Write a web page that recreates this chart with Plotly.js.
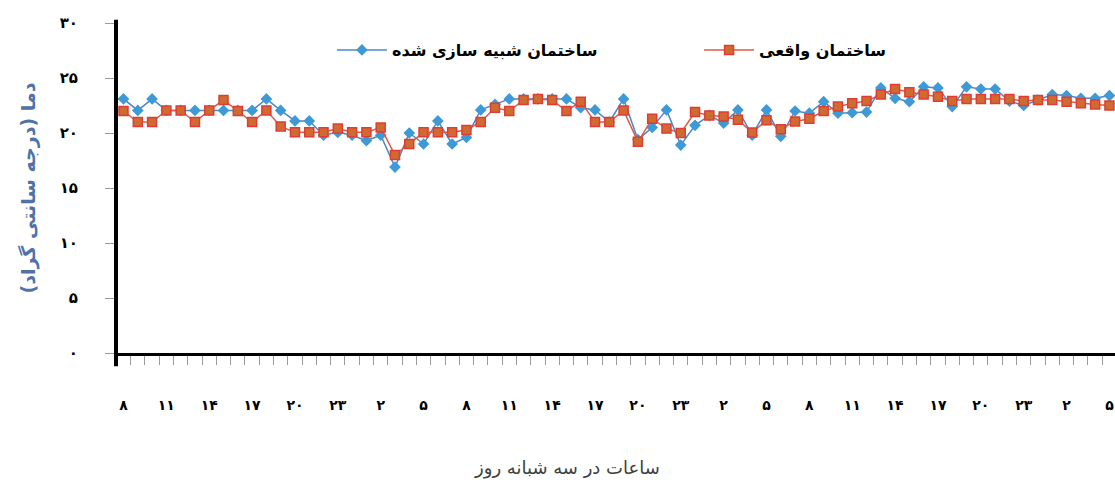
<!DOCTYPE html>
<html>
<head>
<meta charset="utf-8">
<script src="https://cdn.plot.ly/plotly-3.0.1.min.js"></script>
<style>html,body{margin:0;padding:0;background:#fff;}#chart{width:1115px;height:485px;}</style>
</head>
<body>
<div id="chart"></div>
<script>
// Hour of day for each hourly reading (three days, starting at 8)
const hours = [8,9,10,11,12,13,14,15,16,17,18,19,20,21,22,23,0,1,2,3,4,5,6,7,
               8,9,10,11,12,13,14,15,16,17,18,19,20,21,22,23,0,1,2,3,4,5,6,7,
               8,9,10,11,12,13,14,15,16,17,18,19,20,21,22,23,0,1,2,3,4,5];

// Simulated building (blue)
const simulated = [23.1,22.05,23.1,22.05,22.05,22.05,22.05,22.05,22.05,22.05,23.1,22.05,
                   21.1,21.1,19.8,20.06,19.8,19.3,19.8,16.9,20.0,19.0,21.1,19.0,
                   19.6,22.1,22.6,23.1,23.1,23.1,23.1,23.1,22.3,22.1,21.0,23.1,
                   19.4,20.5,22.1,18.9,20.7,21.6,20.9,22.1,19.8,22.1,19.7,22.0,
                   21.8,22.85,21.8,21.85,21.9,24.1,23.15,22.85,24.2,24.1,22.4,24.2,
                   24.0,24.0,22.9,22.5,23.0,23.5,23.4,23.15,23.15,23.4];

// Real building (red)
const real = [22.0,21.0,21.0,22.05,22.05,21.0,22.05,23.0,22.0,21.0,22.05,20.6,
              20.06,20.06,20.06,20.4,20.06,20.06,20.5,18.0,19.0,20.06,20.06,20.06,
              20.27,21.0,22.3,22.0,23.0,23.1,23.0,22.0,22.85,21.0,21.0,22.05,
              19.2,21.3,20.4,20.0,21.9,21.6,21.5,21.2,20.05,21.15,20.35,21.05,
              21.3,22.0,22.4,22.7,22.9,23.5,24.0,23.7,23.5,23.3,22.9,23.1,
              23.1,23.1,23.1,22.9,23.0,23.0,22.85,22.7,22.6,22.5];

const yTickValues = [0,5,10,15,20,25,30];
const seriesNames = ['ساختمان شبیه سازی شده', 'ساختمان واقعی'];
const xTitle = 'ساعات در سه شبانه روز';
const yTitle = '\u200Fدما (درجه سانتی گراد)\u200F';

const faDigits = '۰۱۲۳۴۵۶۷۸۹';
function toFa(n){ return String(n).replace(/[0-9]/g, d => faDigits[+d]); }

const idx = hours.map((h,i)=>i);
const labelIdx = idx.filter(i => i % 3 === 0);
const labelText = labelIdx.map(i => toFa(hours[i]));
const minorVals = idx.map(i => i + 0.5);

const FONT = 'DejaVu Sans, Noto Sans, sans-serif';

const traces = [
  {
    x: idx, y: simulated, name: seriesNames[0], type: 'scatter', mode: 'lines+markers',
    line: {color: '#4f86c6', width: 1.5},
    marker: {symbol: 'diamond', size: 9, color: '#3e9ad6'},
    legend: 'legend'
  },
  {
    x: idx, y: real, name: seriesNames[1], type: 'scatter', mode: 'lines+markers',
    line: {color: '#dc5a4a', width: 1.5},
    marker: {symbol: 'square', size: 9, color: '#cf6b30', line: {color: '#e03c34', width: 1.5}},
    legend: 'legend2'
  }
];

const legendCommon = {
  orientation: 'h', xref: 'paper', yref: 'paper', xanchor: 'left', yanchor: 'middle',
  y: 0.918, bgcolor: 'rgba(0,0,0,0)', borderwidth: 0, itemwidth: 50,
  font: {family: FONT, size: 16, color: '#000', weight: 'bold'}
};

const layout = {
  width: 1115, height: 485,
  margin: {l: 118, r: 0, t: 23, b: 132},
  paper_bgcolor: '#fff', plot_bgcolor: '#fff',
  showlegend: true,
  legend: Object.assign({}, legendCommon, {x: 0.2146}),
  legend2: Object.assign({}, legendCommon, {x: 0.5828}),
  xaxis: {
    range: [-0.385, 69.39],
    tickmode: 'array', tickvals: labelIdx, ticktext: labelText,
    ticks: '', showgrid: false, zeroline: false,
    showline: true, linecolor: '#000', linewidth: 3,
    ticklabelstandoff: 37,
    tickfont: {family: FONT, size: 14, color: '#000', weight: 'bold'},
    minor: {tickmode: 'array', tickvals: minorVals, ticks: 'outside', ticklen: 9, tickcolor: '#9a9a9a', tickwidth: 1, showgrid: false}
  },
  yaxis: {
    range: [0, 30],
    tickmode: 'array', tickvals: yTickValues, ticktext: yTickValues.map(toFa),
    ticks: 'outside', ticklen: 9, tickcolor: '#9a9a9a', tickwidth: 1,
    showgrid: false, zeroline: false,
    showline: true, linecolor: '#000', linewidth: 4,
    ticklabelstandoff: 24,
    tickfont: {family: FONT, size: 15, color: '#000', weight: 'bold'},
    title: {text: yTitle, font: {family: FONT, size: 19, color: '#4f72a8', weight: 'bold'}, standoff: 20}
  },
  annotations: [
    {text: xTitle, xref: 'paper', yref: 'paper', x: (567 - 118) / 997, y: -(468 - 353) / 330,
     xanchor: 'center', yanchor: 'middle', showarrow: false,
     font: {family: FONT, size: 18, color: '#404040'}}
  ],
  shapes: [
    {type: 'line', xref: 'paper', yref: 'paper', xsizemode: 'pixel', xanchor: 0,
     x0: -2, x1: -2, y0: -0.04, y1: 1.01, line: {color: '#000', width: 4}}
  ]
};

Plotly.newPlot('chart', traces, layout, {displayModeBar: false, staticPlot: true});
</script>
</body>
</html>
